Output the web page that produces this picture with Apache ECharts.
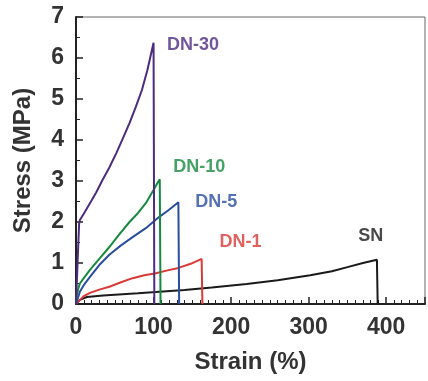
<!DOCTYPE html>
<html>
<head>
<meta charset="utf-8">
<script src="https://cdn.jsdelivr.net/npm/echarts@6/dist/echarts.min.js"></script>
<style>
  html, body { margin: 0; padding: 0; background: #fff; }
  #chart { width: 428px; height: 381px; }
</style>
</head>
<body>
<div id="chart"></div>
<script>
// Stress-strain curves, [strain %, stress MPa]
const dn30 = [[0, 0], [2, 1.0], [4, 1.95], [5, 2.05], [10, 2.2], [18, 2.46], [26, 2.72], [34, 3.02], [43, 3.33], [52, 3.68], [60, 4.02], [69, 4.41], [77, 4.8], [85, 5.22], [92, 5.7], [100, 6.37], [101, 0]];
const dn10 = [[0, 0], [1, 0.2], [3, 0.38], [5, 0.5], [10, 0.63], [18, 0.83], [30, 1.1], [43, 1.39], [55, 1.68], [69, 2.0], [80, 2.22], [90, 2.46], [100, 2.78], [105, 2.95], [108, 3.04], [109, 0]];
const dn5 = [[0, 0], [2, 0.12], [5, 0.3], [10, 0.46], [18, 0.66], [30, 0.95], [43, 1.2], [58, 1.43], [73, 1.63], [90, 1.85], [107, 2.12], [120, 2.3], [132, 2.48], [133, 0]];
const dn1 = [[0, 0], [2, 0.05], [5, 0.1], [10, 0.19], [18, 0.27], [30, 0.35], [43, 0.42], [58, 0.53], [73, 0.63], [88, 0.7], [103, 0.75], [118, 0.82], [132, 0.88], [148, 0.98], [162, 1.1], [163, 0]];
const sn = [[0, 0], [5, 0.1], [14, 0.17], [35, 0.21], [60, 0.24], [80, 0.26], [103, 0.29], [140, 0.34], [175, 0.4], [220, 0.49], [260, 0.58], [302, 0.7], [330, 0.8], [350, 0.9], [370, 1.0], [388, 1.08], [389, 0]];

const seriesNames = ["DN-30", "DN-10", "DN-5", "DN-1", "SN"];
const seriesData = [dn30, dn10, dn5, dn1, sn];
const seriesColors = ["#4b2c7e", "#17893f", "#2a4da0", "#d93a36", "#1a1a1a"];
// label anchor points in data coords
const labelPos = [[151, 6.32], [159, 3.35], [181, 2.48], [212, 1.51], [380, 1.66]];

const xTicks = [0, 100, 200, 300, 400];
const yTicks = [0, 1, 2, 3, 4, 5, 6, 7];

const chart = echarts.init(document.getElementById("chart"));

const lines = seriesData.map((d, i) => ({
  name: seriesNames[i],
  type: "line",
  data: d,
  symbol: "none",
  lineStyle: { color: seriesColors[i], width: 2 },
  z: 5 - i,
}));

const labels = labelPos.map((p, i) => ({
  type: "scatter",
  data: [p],
  symbolSize: 0,
  label: {
    show: true,
    position: "inside",
    formatter: seriesNames[i],
    color: seriesColors[i],
    fontSize: 18,
    fontWeight: "bold",
    fontFamily: "Liberation Sans",
  },
}));

chart.setOption({
  animation: false,
  grid: {
    left: 76, top: 17, width: 354, height: 287,
    show: true, borderColor: "#666", borderWidth: 1,
  },
  xAxis: {
    type: "value",
    min: 0, max: 450, interval: 100,
    name: "Strain (%)",
    nameLocation: "middle",
    nameGap: 46,
    nameTextStyle: { fontSize: 24, fontWeight: "bold", color: "#333", fontFamily: "Liberation Sans" },
    axisLine: { lineStyle: { color: "#222", width: 2 } },
    axisTick: { inside: true, length: 7, lineStyle: { color: "#222", width: 1.5 } },
    minorTick: { show: true, splitNumber: 10, length: 4, lineStyle: { color: "#222" } },
    splitLine: { show: false },
    axisLabel: {
      fontSize: 23, fontWeight: "bold", color: "#333", margin: 12,
      fontFamily: "Liberation Sans",
      formatter: v => (xTicks.includes(v) ? String(v) : ""),
    },
  },
  yAxis: {
    type: "value",
    min: 0, max: 7, interval: 1,
    name: "Stress (MPa)",
    nameLocation: "middle",
    nameGap: 41,
    nameTextStyle: { fontSize: 24, fontWeight: "bold", color: "#333", fontFamily: "Liberation Sans" },
    axisLine: { lineStyle: { color: "#222", width: 2 } },
    axisTick: { inside: true, length: 7, lineStyle: { color: "#222", width: 1.5 } },
    minorTick: { show: true, splitNumber: 2, length: 4, lineStyle: { color: "#222" } },
    splitLine: { show: false },
    axisLabel: {
      fontSize: 23, fontWeight: "bold", color: "#333", margin: 12,
      fontFamily: "Liberation Sans",
      formatter: v => (yTicks.includes(v) ? String(v) : ""),
    },
  },
  series: [...lines, ...labels],
});
</script>
</body>
</html>
